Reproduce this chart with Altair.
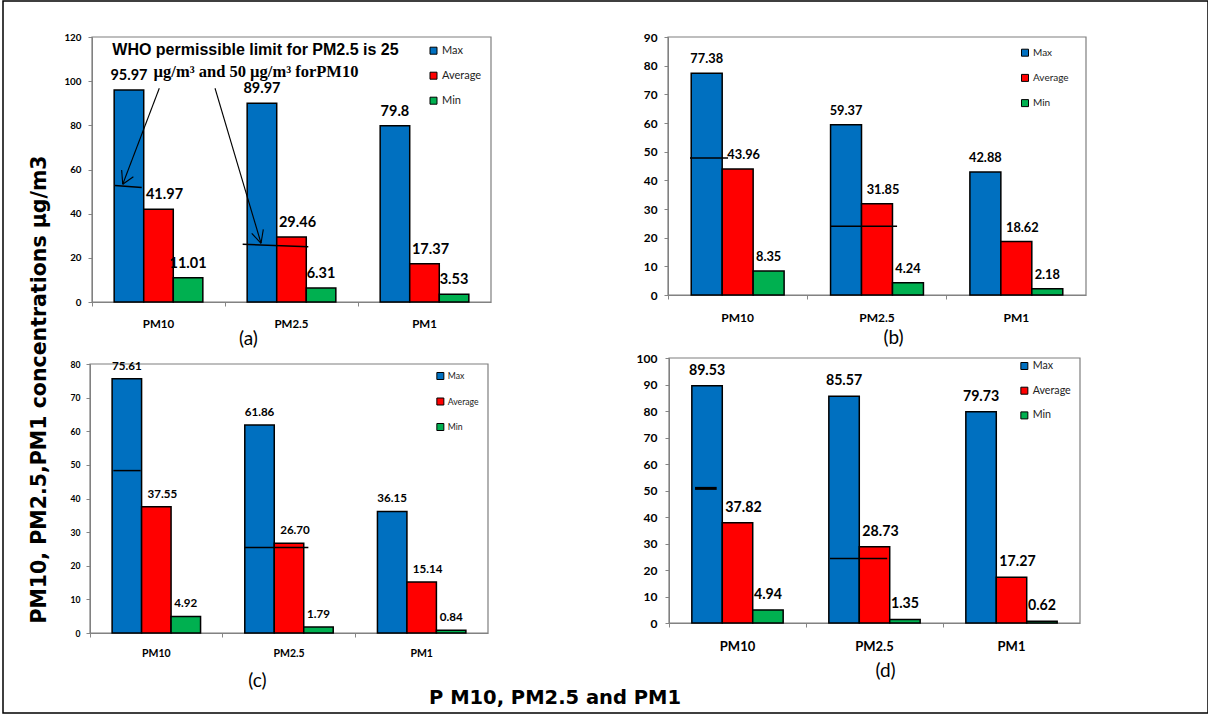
import altair as alt
import pandas as pd

# ---------------------------------------------------------------- data
CATEGORIES = ["PM10", "PM2.5", "PM1"]
SERIES = ["Max", "Average", "Min"]
SERIES_COLORS = ["#0070C0", "#FF0000", "#00B050"]

# Concentrations (µg/m3) as printed above the bars, one list per series
a_max = ["95.97", "89.97", "79.8"]
a_avg = ["41.97", "29.46", "17.37"]
a_min = ["11.01", "6.31", "3.53"]

b_max = ["77.38", "59.37", "42.88"]
b_avg = ["43.96", "31.85", "18.62"]
b_min = ["8.35", "4.24", "2.18"]

c_max = ["75.61", "61.86", "36.15"]
c_avg = ["37.55", "26.70", "15.14"]
c_min = ["4.92", "1.79", "0.84"]

d_max = ["89.53", "85.57", "79.73"]
d_avg = ["37.82", "28.73", "17.27"]
d_min = ["4.94", "1.35", "0.62"]

# y-axis tick values
a_ticks = [0, 20, 40, 60, 80, 100, 120]
b_ticks = [0, 10, 20, 30, 40, 50, 60, 70, 80, 90]
c_ticks = [0, 10, 20, 30, 40, 50, 60, 70, 80]
d_ticks = [0, 10, 20, 30, 40, 50, 60, 70, 80, 90, 100]

# Hand-drawn WHO limit strokes: x in category units (0-3 across the groups), y in µg/m3
a_guide_u = [0.173, 1.133]
a_guide_u2 = [0.374, 1.626]
a_guide_v = [52.7, 26.1]
a_guide_v2 = [51.8, 25.0]
a_guide_w = [1.5, 1.5]

b_guide_u = [0.158, 1.170]
b_guide_u2 = [0.431, 1.644]
b_guide_v = [47.8, 24.0]
b_guide_v2 = [47.8, 24.0]
b_guide_w = [1.5, 1.5]

c_guide_u = [0.176, 1.163]
c_guide_u2 = [0.382, 1.646]
c_guide_v = [48.3, 25.4]
c_guide_v2 = [48.3, 25.4]
c_guide_w = [1.5, 1.5]

d_guide_u = [0.190, 1.175]
d_guide_u2 = [0.348, 1.593]
d_guide_v = [50.8, 24.3]
d_guide_v2 = [50.8, 24.3]
d_guide_w = [3.0, 1.5]

# Arrows from the WHO note down to the limit strokes (shafts and barbs)
arrow_u = [0.506, 0.223, 0.311, 0.925, 1.201, 1.288]
arrow_v = [96.8, 59.8, 56.7, 96.8, 31.1, 32.9]
arrow_u2 = [0.231, 0.231, 0.231, 1.271, 1.271, 1.271]
arrow_v2 = [53.3, 53.3, 53.3, 26.6, 26.6, 26.6]

note_text = ["WHO permissible limit for PM2.5 is 25", "µg/m³ and 50 µg/m³ forPM10"]
note_u = [1.229, 1.233]
note_v = [114.1, 104.2]

Y_TITLE = "PM10, PM2.5,PM1  concentrations µg/m3"
X_TITLE = "P M10, PM2.5 and PM1"

# ---------------------------------------------------------------- layout
W, H = 1205, 712          # framed view
OX, OY = 3, 1             # padding before the frame
GRID = "#868686"


def build_panel(values, ticks, guides, box, caption, cap_xy, legend_xy, fs,
                y_title=False, arrows=False):
    rows = []
    for s, vals in zip(SERIES, values):
        for c, v in zip(CATEGORIES, vals):
            rows.append({"cat": c, "series": s, "value": float(v), "label": v})
    df = pd.DataFrame(rows)

    left, right, top, bottom, ymax = box
    x0, x1 = left - OX, right - OX
    y0, y1 = top - OY, bottom - OY

    xs = alt.Scale(domain=CATEGORIES, range=[x0, x1], paddingInner=0, paddingOuter=0)
    us = alt.Scale(domain=[0, 3], range=[x0, x1], nice=False, zero=False)
    ys = alt.Scale(domain=[0, ymax], range=[y1, y0], nice=False, zero=False)
    xo = alt.Scale(domain=SERIES, paddingInner=0, paddingOuter=0.75)
    cs = alt.Scale(domain=SERIES, range=SERIES_COLORS)

    yaxis_kw = dict(
        orient="left", offset=-x0, values=ticks, grid=False,
        domainColor=GRID, tickColor=GRID, tickSize=4,
        labelFont="Lato", labelFontWeight="bold", labelFontSize=fs["y"],
        labelColor="black", labelPadding=fs["ypad"],
    )
    if y_title:
        yaxis_kw.update(
            title=Y_TITLE, titleFont="DejaVu Sans", titleFontWeight="bold",
            titleFontSize=20.5, titleColor="black", titleAngle=270,
            titleAlign="center", titleBaseline="middle",
            titleX=36 - x0, titleY=388,
        )
    else:
        yaxis_kw["title"] = None
    yaxis = alt.Axis(**yaxis_kw)

    xaxis = alt.Axis(
        orient="bottom", offset=y1 - H, bandPosition=0, labelAngle=0,
        domainColor=GRID, tickColor=GRID, tickSize=4,
        labelFont="Lato", labelFontWeight="bold", labelFontSize=fs["x"],
        labelColor="black", labelPadding=fs["xpad"],
        title=caption, titleFont="Lato", titleFontWeight="normal",
        titleFontSize=19, titleColor="black", titleAlign="center",
        titleBaseline="middle", titleX=cap_xy[0] - OX, titleY=cap_xy[1] - bottom,
    )

    legend = alt.Legend(
        orient="none", legendX=legend_xy[0] - OX - 4,
        legendY=legend_xy[1] - OY - fs["leg"] / 2, title=None,
        symbolType="square", symbolSize=49, symbolStrokeColor="black",
        symbolStrokeWidth=1, labelFont="Lato", labelFontSize=fs["leg"],
        labelColor="#222222", rowPadding=legend_xy[2] - fs["leg"],
        padding=0, labelOffset=3,
    )

    # plot-area border (one rectangle per panel, behind the bars)
    border = alt.Chart(pd.DataFrame({"panel": [caption]})).mark_rect(
        fillOpacity=0, stroke="#7f7f7f", strokeWidth=1.2
    ).encode(
        x=alt.value(x0), x2=alt.value(x1),
        y=alt.value(y0), y2=alt.value(y1),
    )

    bars = alt.Chart(df).mark_bar(stroke="black", strokeWidth=1.5).encode(
        x=alt.X("cat:N", scale=xs, sort=CATEGORIES, axis=xaxis),
        xOffset=alt.XOffset("series:N", scale=xo, sort=SERIES),
        y=alt.Y("value:Q", scale=ys, axis=yaxis),
        color=alt.Color("series:N", scale=cs, sort=SERIES, legend=legend),
    )

    def value_labels(selector, dx):
        return alt.Chart(df).transform_filter(selector).mark_text(
            font="Lato", fontWeight="bold", fontSize=fs["lab"], color="black",
            baseline="middle", dy=-fs["dy"], dx=dx,
        ).encode(
            x=alt.X("cat:N", scale=xs, sort=CATEGORIES, axis=xaxis),
            xOffset=alt.XOffset("series:N", scale=xo, sort=SERIES),
            y=alt.Y("value:Q", scale=ys, axis=yaxis),
            text="label:N",
        )

    bar_layer = alt.layer(
        border,
        bars,
        value_labels(alt.datum.series != "Average", 0),
        value_labels(alt.datum.series == "Average", 6),
    )

    g_u, g_u2, g_v, g_v2, g_w = guides
    guide_df = pd.DataFrame({"u": g_u, "u2": g_u2, "value": g_v, "value2": g_v2, "w": g_w})
    annot = [
        alt.Chart(guide_df).mark_rule(color="black", strokeCap="butt").encode(
            x=alt.X("u:Q", scale=us, axis=None), x2="u2:Q",
            y=alt.Y("value:Q", scale=ys, axis=yaxis), y2="value2:Q",
            strokeWidth=alt.StrokeWidth("w:Q", scale=None),
        )
    ]

    if arrows:
        arrow_df = pd.DataFrame({"u": arrow_u, "u2": arrow_u2,
                                 "value": arrow_v, "value2": arrow_v2})
        annot.append(
            alt.Chart(arrow_df).mark_rule(color="black", strokeWidth=1.1).encode(
                x=alt.X("u:Q", scale=us, axis=None), x2="u2:Q",
                y=alt.Y("value:Q", scale=ys, axis=yaxis), y2="value2:Q",
            )
        )
        note_df = pd.DataFrame({"u": note_u, "value": note_v, "text": note_text})
        fonts = [("Liberation Sans", 16), ("Liberation Serif", 16.5)]
        for i, (font, size) in enumerate(fonts):
            annot.append(
                alt.Chart(note_df.iloc[[i]]).mark_text(
                    font=font, fontSize=size, fontWeight="bold", color="black",
                    baseline="middle", align="center",
                ).encode(
                    x=alt.X("u:Q", scale=us, axis=None),
                    y=alt.Y("value:Q", scale=ys, axis=yaxis),
                    text="text:N",
                )
            )

    annot_layer = alt.layer(*annot)
    return alt.layer(bar_layer, annot_layer).resolve_scale(x="independent")


panel_a = build_panel(
    (a_max, a_avg, a_min), a_ticks,
    (a_guide_u, a_guide_u2, a_guide_v, a_guide_v2, a_guide_w),
    (92, 491, 37, 302, 120), "(a)", (248, 338), (432, 50.7, 24),
    dict(y=9.8, ypad=7, x=11.5, xpad=12, lab=14.5, dy=14, leg=11),
    y_title=True, arrows=True,
)
panel_b = build_panel(
    (b_max, b_avg, b_min), b_ticks,
    (b_guide_u, b_guide_u2, b_guide_v, b_guide_v2, b_guide_w),
    (668, 1086, 37, 295, 90), "(b)", (893, 337), (1024, 52.7, 23.2),
    dict(y=11.8, ypad=7, x=12, xpad=13, lab=12.8, dy=14, leg=10),
)
panel_c = build_panel(
    (c_max, c_avg, c_min), c_ticks,
    (c_guide_u, c_guide_u2, c_guide_v, c_guide_v2, c_guide_w),
    (90, 488, 364, 633, 80), "(c)", (257, 680), (440, 376, 22.2),
    dict(y=8.6, ypad=6, x=10.5, xpad=11.5, lab=11.6, dy=12, leg=8.7),
)
panel_d = build_panel(
    (d_max, d_avg, d_min), d_ticks,
    (d_guide_u, d_guide_u2, d_guide_v, d_guide_v2, d_guide_w),
    (669, 1080, 358, 623, 100), "(d)", (885, 670), (1023, 366, 23.4),
    dict(y=12, ypad=8, x=13, xpad=13, lab=14.2, dy=15, leg=10.7),
)

chart = alt.layer(panel_a, panel_b, panel_c, panel_d).resolve_scale(
    x="independent", y="independent", xOffset="independent", color="independent",
).properties(
    width=W, height=H,
    background="white",
    autosize=alt.AutoSizeParams(type="none"),
    padding={"left": OX, "top": OY, "right": 0, "bottom": 1},
    title=alt.TitleParams(
        X_TITLE, orient="bottom", anchor="middle", frame="group",
        font="DejaVu Sans", fontWeight="bold", fontSize=19.5, color="black",
        baseline="middle", offset=-15, dx=-50.5,
    ),
).configure_view(stroke="black", strokeWidth=1.5)

chart.save("out.html", embed_options={"renderer": "svg", "actions": False})
